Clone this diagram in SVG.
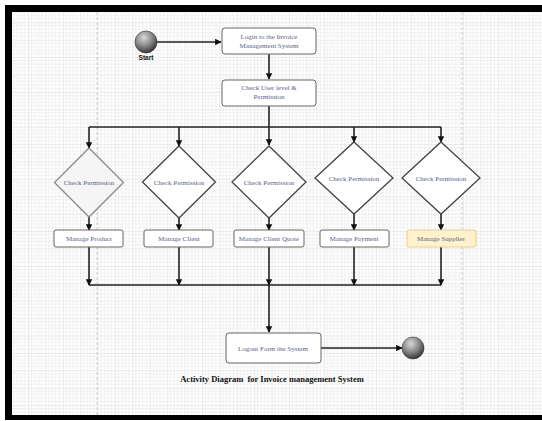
<svg xmlns="http://www.w3.org/2000/svg" width="542" height="421" viewBox="0 0 542 421">
<defs>
<pattern id="grid" x="10.6" y="4.9" width="17.4" height="17.4" patternUnits="userSpaceOnUse">
<path d="M3.48 0V17.4M6.96 0V17.4M10.44 0V17.4M13.92 0V17.4M0 3.48H17.4M0 6.96H17.4M0 10.44H17.4M0 13.92H17.4" stroke="#ebebeb" stroke-width="0.7" fill="none"/>
<path d="M0 0V17.4M0 0H17.4" stroke="#d6d6d6" stroke-width="0.9" fill="none"/>
</pattern>
<radialGradient id="ball" cx="0.4" cy="0.3" r="0.75">
<stop offset="0" stop-color="#d8d8d8"/>
<stop offset="0.5" stop-color="#8a8a8a"/>
<stop offset="1" stop-color="#2a2a2a"/>
</radialGradient>
<marker id="ah" viewBox="0 0 10 10" refX="9" refY="5" markerWidth="6.5" markerHeight="6.5" markerUnits="userSpaceOnUse" orient="auto">
<path d="M0 0L10 5L0 10z" fill="#111"/>
</marker>
</defs>
<style>
.box{fill:#fff;stroke:#666;stroke-width:1}
.dia{fill:#fff;stroke:#444;stroke-width:1.3}
.lbl{font-family:"Liberation Serif","DejaVu Serif",serif;font-size:7px;fill:#5a6488;text-anchor:middle}
.c{fill:none;stroke:#222;stroke-width:1.6}
.frame{fill:#000}
</style>
<rect width="542" height="421" fill="#fff"/>
<rect x="12" y="12" width="530" height="404" fill="url(#grid)"/>
<line x1="97" y1="12" x2="97" y2="416" stroke="#c0c0c0" stroke-width="0.8" stroke-dasharray="3,2"/>
<line x1="462" y1="12" x2="462" y2="416" stroke="#c0c0c0" stroke-width="0.8" stroke-dasharray="3,2"/>
<rect class="frame" x="5" y="5" width="537" height="7"/>
<rect class="frame" x="5" y="5" width="7" height="415"/>
<rect class="frame" x="5" y="415" width="537" height="5"/>

<g id="connectors">
<path class="c" d="M157 42H221" marker-end="url(#ah)"/>
<path class="c" d="M269 54V79" marker-end="url(#ah)"/>
<path class="c" d="M269 106V145" marker-end="url(#ah)"/>
<path class="c" d="M89 127H441"/>
<path class="c" d="M89 127V148" marker-end="url(#ah)"/>
<path class="c" d="M179 127V146" marker-end="url(#ah)"/>
<path class="c" d="M354 127V142" marker-end="url(#ah)"/>
<path class="c" d="M441 127V142" marker-end="url(#ah)"/>
<path class="c" d="M89 217V230" marker-end="url(#ah)"/>
<path class="c" d="M179 218V230" marker-end="url(#ah)"/>
<path class="c" d="M269 218V230" marker-end="url(#ah)"/>
<path class="c" d="M354 214V230" marker-end="url(#ah)"/>
<path class="c" d="M441 214V230" marker-end="url(#ah)"/>
<path class="c" d="M89 285H441"/>
<path class="c" d="M89 247V285" marker-end="url(#ah)"/>
<path class="c" d="M179 247V285" marker-end="url(#ah)"/>
<path class="c" d="M269 247V285" marker-end="url(#ah)"/>
<path class="c" d="M354 247V285" marker-end="url(#ah)"/>
<path class="c" d="M441 247V285" marker-end="url(#ah)"/>
<path class="c" d="M269 285V332" marker-end="url(#ah)"/>
<path class="c" d="M321 348H402" marker-end="url(#ah)"/>
</g>

<g id="start">
<circle cx="146" cy="42" r="11" fill="url(#ball)" stroke="#333" stroke-width="0.6"/>
<text x="146" y="60" font-family="'Liberation Sans','DejaVu Sans',sans-serif" font-size="6.5" font-weight="bold" fill="#111" text-anchor="middle">Start</text>
</g>
<g id="login">
<rect class="box" x="222" y="28" width="94" height="26" rx="3"/>
<text class="lbl" x="269" y="39">Login to the Invoice</text>
<text class="lbl" x="269" y="47.5">Management System</text>
</g>
<g id="checkuser">
<rect class="box" x="222" y="80" width="94" height="26" rx="3"/>
<text class="lbl" x="269" y="90">Check User level &amp;</text>
<text class="lbl" x="269" y="98.5">Permission</text>
</g>

<g id="perm1">
<path d="M89 148L123.5 182.5L89 217L54.5 182.5Z" fill="#f5f5f5" stroke="#888" stroke-width="1.3"/>
<text class="lbl" x="89" y="185">Check Permission</text>
</g>
<g id="perm2">
<path class="dia" d="M179 146L215.5 182L179 218L142.5 182Z"/>
<text class="lbl" x="179" y="184.5">Check Permission</text>
</g>
<g id="perm3">
<path class="dia" d="M269 146L306 182L269 218L232 182Z"/>
<text class="lbl" x="269" y="184.5">Check Permission</text>
</g>
<g id="perm4">
<path class="dia" d="M354 142L393 178L354 214L315 178Z"/>
<text class="lbl" x="354" y="180.5">Check Permission</text>
</g>
<g id="perm5">
<path class="dia" d="M441 142L480 178L441 214L402 178Z"/>
<text class="lbl" x="441" y="180.5">Check Permission</text>
</g>

<g id="product">
<rect class="box" x="54" y="230" width="69" height="17" rx="2"/>
<text class="lbl" x="89" y="241">Manage Product</text>
</g>
<g id="client">
<rect class="box" x="144" y="230" width="69" height="17" rx="2"/>
<text class="lbl" x="179" y="241">Manage Client</text>
</g>
<g id="clientquote">
<rect class="box" x="234" y="230" width="70" height="17" rx="2"/>
<text class="lbl" x="269" y="241">Manage Client Quote</text>
</g>
<g id="payment">
<rect class="box" x="320" y="230" width="69" height="17" rx="2"/>
<text class="lbl" x="354" y="241">Manage Payment</text>
</g>
<g id="supplier">
<rect x="407" y="230" width="69" height="17" rx="2" fill="#fff2cc" stroke="#e6cf8a" stroke-width="1"/>
<text class="lbl" x="441" y="241">Manage Supplier</text>
</g>

<g id="logout">
<rect class="box" x="226" y="333" width="95" height="30" rx="3"/>
<text class="lbl" x="273" y="350.5">Logout Form the System</text>
</g>
<g id="end">
<circle cx="413" cy="348" r="11" fill="url(#ball)" stroke="#333" stroke-width="0.6"/>
</g>
<g id="title">
<text x="272" y="382" font-family="'Liberation Serif','DejaVu Serif',serif" font-size="8.5" font-weight="bold" fill="#111" text-anchor="middle" xml:space="preserve">Activity Diagram  for Invoice management System</text>
</g>
</svg>
